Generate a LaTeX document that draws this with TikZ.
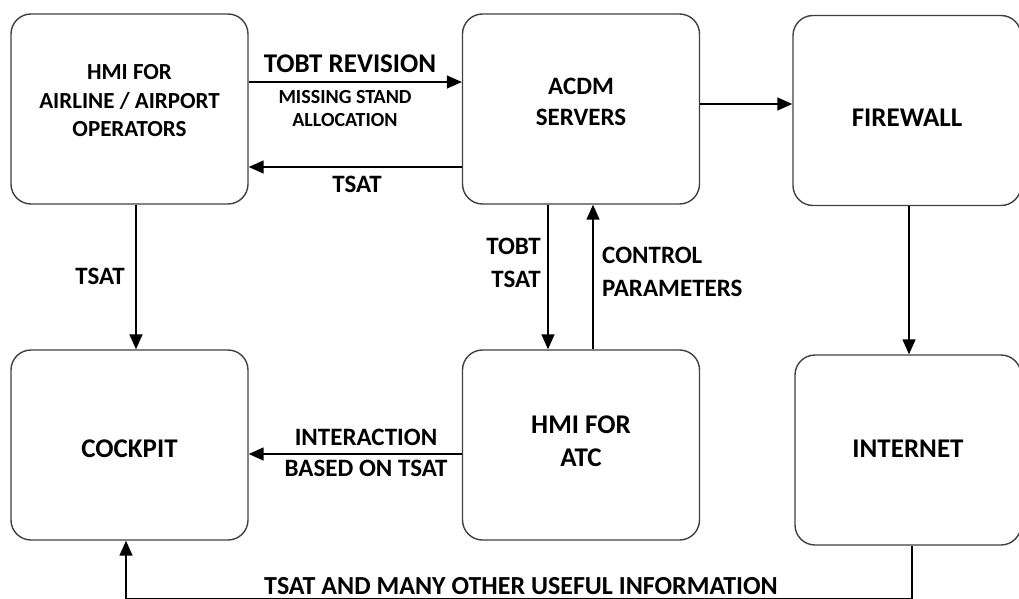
\documentclass[tikz,border=0pt]{standalone}
\usepackage{fontspec}
\setmainfont{Carlito}
\usetikzlibrary{arrows.meta}
\tikzset{
  blk/.style={draw=black!75, line width=1.4pt, rounded corners=20pt,
    minimum width=237pt, minimum height=190pt},
  boxtxt/.style={align=center, font=\bfseries\fontsize{27}{33}\selectfont},
  flow/.style={line width=1.5pt, -{Triangle[length=15pt,width=13pt]}},
  lbl/.style={font=\bfseries\fontsize{25}{33}\selectfont, align=center, inner sep=0pt}
}
\begin{document}
\begin{tikzpicture}[x=1pt,y=-1pt]
\useasboundingbox (0,0) rectangle (1019,599);
% boxes
\node[blk, label={[boxtxt, font=\bfseries\fontsize{23}{28.5}\selectfont, yshift=8pt]center:{HMI FOR\\AIRLINE / AIRPORT\\OPERATORS}}] (hmiair) at (129.5,109) {};
\node[blk, label={[boxtxt, font=\bfseries\fontsize{25}{31}\selectfont, yshift=7pt]center:{ACDM\\SERVERS}}] (acdm) at (581,109) {};
\node[blk, minimum width=228pt, label={[boxtxt, yshift=-7pt]center:FIREWALL}] (firewall) at (907,110.5) {};
\node[blk, label={[boxtxt, yshift=-4pt]center:COCKPIT}] (cockpit) at (129.5,445) {};
\node[blk, label={[boxtxt, yshift=4pt]center:{HMI FOR\\ATC}}] (hmiatc) at (581,445) {};
\node[blk, minimum width=226pt, label={[boxtxt, yshift=1pt]center:INTERNET}] (internet) at (908,450) {};
% top row
\draw[flow] ([yshift=27pt]hmiair.east) -- ([yshift=27pt]acdm.west);
\node[lbl, font=\bfseries\fontsize{27}{33}\selectfont] (revlbl) at (350,64) {TOBT REVISION};
\node[lbl, font=\bfseries\fontsize{20}{23}\selectfont] (misslbl) at (345,109) {MISSING STAND\\ALLOCATION};
\draw[flow] ([yshift=-58pt]acdm.west) -- ([yshift=-58pt]hmiair.east);
\node[lbl] (tsatlbl) at (357,184) {TSAT};
\draw[flow] ([yshift=5pt]acdm.east) -- ([yshift=5pt]acdm.east -| firewall.west);
% verticals
\draw[flow] ([xshift=6.5pt]hmiair.south) -- ([xshift=6.5pt]cockpit.north);
\node[lbl] (tsatdown) at (100,276) {TSAT};
\draw[flow] ([xshift=-33pt]acdm.south) -- ([xshift=-33pt]hmiatc.north);
\node[lbl, anchor=east, align=right] (tobtlbl) at (541,263) {TOBT\\TSAT};
\draw[flow] ([xshift=12pt]hmiatc.north) -- ([xshift=12pt]acdm.south);
\node[lbl, anchor=west, align=left] (ctrllbl) at (602,272) {CONTROL\\PARAMETERS};
\draw[flow] ([xshift=2pt]firewall.south) -- ([xshift=1pt]internet.north);
% bottom row
\draw[flow] ([yshift=-9pt]hmiatc.west) -- ([yshift=-9pt]cockpit.east);
\node[lbl, font=\bfseries\fontsize{25}{31}\selectfont] (interlbl) at (366,453) {INTERACTION\\BASED ON TSAT};
\draw[flow] ([xshift=4pt]internet.south) -- ++(0,53) -| ([xshift=-3.5pt]cockpit.south);
\node[lbl, font=\bfseries\fontsize{26}{33}\selectfont] (infolbl) at (521,586) {TSAT AND MANY OTHER USEFUL INFORMATION};
\end{tikzpicture}
\end{document}
